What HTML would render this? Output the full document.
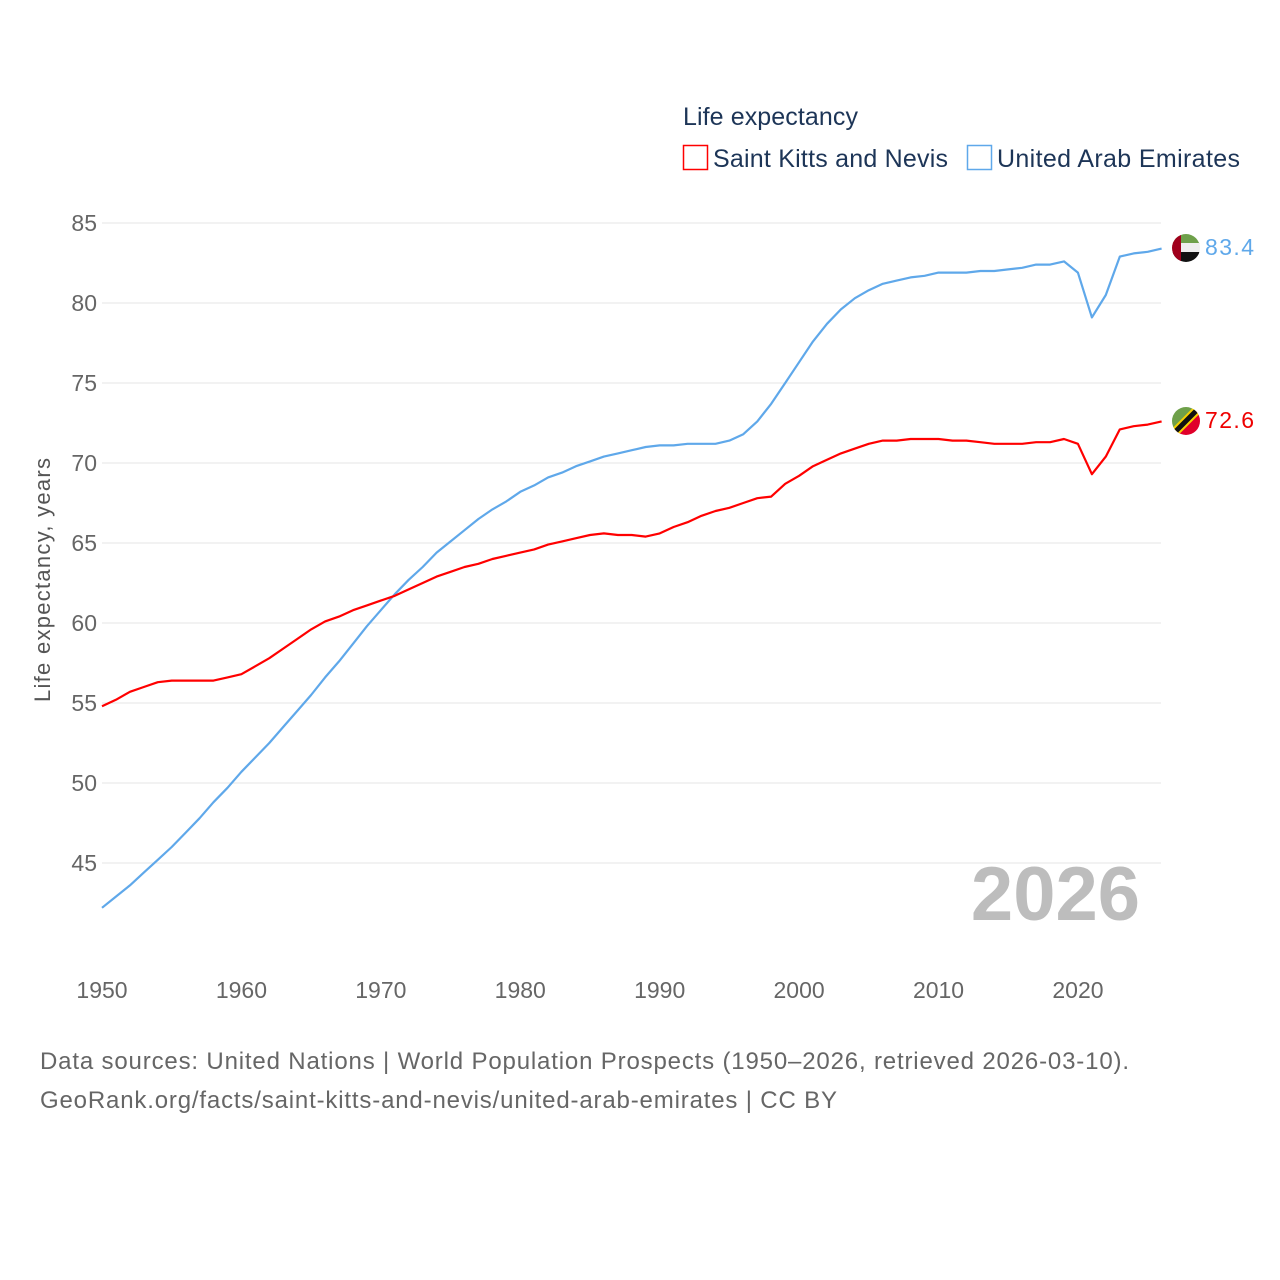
<!DOCTYPE html>
<html><head><meta charset="utf-8"><style>
body{margin:0;background:#fff;font-family:"Liberation Sans",sans-serif;}
svg{display:block}
</style></head><body>
<svg id="chart" width="1280" height="1280" xmlns="http://www.w3.org/2000/svg">
<g>
<text x="683" y="125" font-size="25" fill="#1d3557" textLength="175">Life expectancy</text>
<rect x="683.5" y="145.5" width="24" height="24" fill="none" stroke="#f00" stroke-width="1.5"/>
<text x="713" y="167" font-size="25" fill="#1d3557" textLength="235">Saint Kitts and Nevis</text>
<rect x="967.5" y="145.5" width="24" height="24" fill="none" stroke="#5fa8ea" stroke-width="1.5"/>
<text x="997" y="167" font-size="25" fill="#1d3557" textLength="243">United Arab Emirates</text>
</g>
<g id="grid"></g>
<g id="yt"></g>
<g id="xt"></g>
<text transform="translate(50,580) rotate(-90)" text-anchor="middle" font-size="22" fill="#555" textLength="244">Life expectancy, years</text>
<text x="1140" y="920" text-anchor="end" font-size="76" font-weight="bold" fill="#bdbdbd">2026</text>
<g id="series"></g>
<g>
<g>
<clipPath id="c1"><circle cx="1186" cy="248" r="14"/></clipPath>
<g clip-path="url(#c1)"><rect x="1172" y="234" width="28" height="10" fill="#6ea04a"/><rect x="1172" y="243" width="28" height="10" fill="#eee"/><rect x="1172" y="252" width="28" height="10" fill="#111"/><rect x="1172" y="234" width="9" height="28" fill="#a0001c"/></g></g>
<text x="1205" y="255" font-size="23" fill="#5fa8ea" textLength="49">83.4</text>
<g>
<clipPath id="c2"><circle cx="1186" cy="421" r="14"/></clipPath>
<g clip-path="url(#c2)"><polygon points="1172,407 1200,407 1172,435" fill="#6ea04a"/><polygon points="1200,407 1200,435 1172,435" fill="#e0002a"/><line x1="1172" y1="435" x2="1200" y2="407" stroke="#f5d000" stroke-width="9"/><line x1="1172" y1="435" x2="1200" y2="407" stroke="#111" stroke-width="5"/></g></g>
<text x="1205" y="428" font-size="23" fill="#e00" textLength="49">72.6</text>
</g>
<text x="40" y="1069" font-size="24" fill="#666" textLength="1089">Data sources: United Nations | World Population Prospects (1950–2026, retrieved 2026-03-10).</text>
<text x="40" y="1108" font-size="24" fill="#666" textLength="797">GeoRank.org/facts/saint-kitts-and-nevis/united-arab-emirates | CC BY</text>
</svg>
<script>
const years=[];for(let y=1950;y<=2026;y++)years.push(y);
const sknValues=[54.8,55.2,55.7,56.0,56.3,56.4,56.4,56.4,56.4,56.6,56.8,57.3,57.8,58.4,59.0,59.6,60.1,60.4,60.8,61.1,61.4,61.7,62.1,62.5,62.9,63.2,63.5,63.7,64.0,64.2,64.4,64.6,64.9,65.1,65.3,65.5,65.6,65.5,65.5,65.4,65.6,66.0,66.3,66.7,67.0,67.2,67.5,67.8,67.9,68.7,69.2,69.8,70.2,70.6,70.9,71.2,71.4,71.4,71.5,71.5,71.5,71.4,71.4,71.3,71.2,71.2,71.2,71.3,71.3,71.5,71.2,69.3,70.4,72.1,72.3,72.4,72.6];
const uaeValues=[42.2,42.9,43.6,44.4,45.2,46.0,46.9,47.8,48.8,49.7,50.7,51.6,52.5,53.5,54.5,55.5,56.6,57.6,58.7,59.8,60.8,61.8,62.7,63.5,64.4,65.1,65.8,66.5,67.1,67.6,68.2,68.6,69.1,69.4,69.8,70.1,70.4,70.6,70.8,71.0,71.1,71.1,71.2,71.2,71.2,71.4,71.8,72.6,73.7,75.0,76.3,77.6,78.7,79.6,80.3,80.8,81.2,81.4,81.6,81.7,81.9,81.9,81.9,82.0,82.0,82.1,82.2,82.4,82.4,82.6,81.9,79.1,80.5,82.9,83.1,83.2,83.4];
const yTicks=[45,50,55,60,65,70,75,80,85];
const xTicks=[1950,1960,1970,1980,1990,2000,2010,2020];
const NS="http://www.w3.org/2000/svg";
const xs=y=>102+(y-1950)*(1161.6-102)/76;
const ys=v=>223+(85-v)*16;
function mk(t,a,p){const e=document.createElementNS(NS,t);for(const k in a)e.setAttribute(k,a[k]);p.appendChild(e);return e;}
const grid=document.getElementById('grid'),yt=document.getElementById('yt'),xt=document.getElementById('xt'),ser=document.getElementById('series');
yTicks.forEach(v=>{
 const l=mk('line',{x1:102,x2:1161,y1:ys(v),y2:ys(v),stroke:'#e6e6e6','stroke-width':1},grid);
 
 
 const t=mk('text',{x:97,y:ys(v)+8,'text-anchor':'end','font-size':23,fill:'#666'},yt);
 t.textContent=v;
 
 
});
xTicks.forEach(y=>{
 const t=mk('text',{x:xs(y),y:998,'text-anchor':'middle','font-size':23,fill:'#666'},xt);
 t.textContent=y;
 
 
});
function line(vals,col,name){
 const d=vals.map((v,i)=>(i?'L':'M')+xs(years[i]).toFixed(1)+','+ys(v).toFixed(1)).join('');
 const p=mk('path',{d:d,fill:'none',stroke:col,'stroke-width':2.2,'stroke-linejoin':'round'},ser);
 
 
}
line(uaeValues,'#5fa8ea','uae-line');
line(sknValues,'#ff0000','skn-line');
</script>
</body></html>
